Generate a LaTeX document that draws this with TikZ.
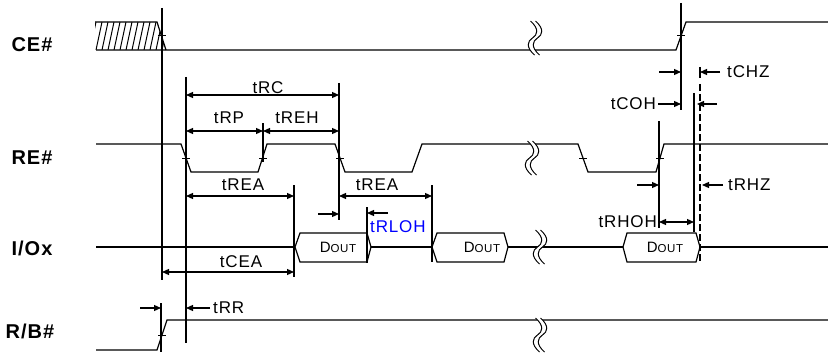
\documentclass[tikz,border=0pt]{standalone}
\usepackage{fontspec}
\setmainfont{Liberation Sans}
\newfontfamily\tfont[LetterSpace=5]{Liberation Sans}
\usetikzlibrary{arrows.meta}
\tikzset{
  sig/.style={line width=1.2pt},
  dim/.style={line width=1.2pt, -{Triangle[length=7pt,width=6pt]}},
  ddim/.style={line width=1.2pt, {Triangle[length=7pt,width=6pt]}-{Triangle[length=7pt,width=6pt]}},
  lbl/.style={inner sep=0pt, font=\tfont\fontsize{17}{19}\selectfont},
  signame/.style={inner sep=0pt, font=\tfont\bfseries\fontsize{20}{22}\selectfont},
  dout/.style={inner sep=0pt, font=\tfont\fontsize{15}{17}\selectfont},
  brk/.pic={
    \fill[white] (-4.5,-17) .. controls (4.5,-9) and (2.5,-3) .. (-2.5,0)
      .. controls (-7.5,3) and (-9.5,9) .. (-0.5,17) -- (4.5,17)
      .. controls (-4.5,9) and (-2.5,3) .. (2.5,0)
      .. controls (7.5,-3) and (9.5,-9) .. (0.5,-17) -- cycle;
    \foreach \d in {-2.5,2.5}
      \draw[line width=1pt, shift={(\d,0)}] (-2,-17) .. controls (7,-9) and (5,-3) .. (0,0)
        .. controls (-5,3) and (-7,9) .. (2,17);
  }
}
\newcommand{\Dout}{D{\fontsize{11.5}{13}\selectfont OUT}}
\begin{document}
\begin{tikzpicture}[x=1pt, y=-1pt]
  \useasboundingbox (0,0) rectangle (828,353);
  % timing marks
  \coordinate (ceF) at (162,0);
  \coordinate (reF) at (186,0);
  \coordinate (reR) at (263,0);
  \coordinate (reF2) at (339,0);
  \coordinate (doA) at (294,0);
  \coordinate (doB) at (367,0);
  \coordinate (doC) at (432,0);
  \coordinate (reR3) at (659,0);
  \coordinate (ceR) at (681,0);
  \coordinate (doD) at (694,0);
  \coordinate (hiZ) at (700,0);
  \coordinate (rbR) at (161,0);
  % signal names
  \node[signame] (nce) at (32,45) {CE\#};
  \node[signame] (nre) at (32,158) {RE\#};
  \node[signame] (nio) at (32,248) {I/Ox};
  \node[signame] (nrb) at (30,331) {R/B\#};
  % CE#
  \begin{scope}
    \clip (95,22) -- (157,22) -- (166,50) -- (95,50) -- cycle;
    \foreach \x in {90,96,...,168}
      \draw[line width=1pt] (\x,50) -- (\x+6,22);
  \end{scope}
  \draw[sig] (95,22) -- (157,22) -- (166,50);
  \draw[sig] (96,50) -- (676,50) -- (686,22) -- (828,22);
  % RE#
  \draw[sig] (96,144) -- (181,144) -- (191,172) -- (258,172) -- (267,144)
    -- (335,144) -- (345,172) -- (412,172) -- (422,144) -- (578,144)
    -- (588,172) -- (656,172) -- (664,144) -- (828,144);
  % I/Ox
  \draw[sig] (96,247) -- (295,247) (371,247) -- (432,247) (508,247) -- (623,247)
    (700,247) -- (828,247);
  \draw[sig] (295,247) -- (300,233) -- (367,233) -- (371,247) -- (367,262) -- (300,262) -- cycle;
  \draw[sig] (432,247) -- (437,233) -- (504,233) -- (508,247) -- (504,262) -- (437,262) -- cycle;
  \draw[sig] (623,247) -- (627,233) -- (696,233) -- (700,247) -- (696,262) -- (627,262) -- cycle;
  \node[dout] (d1) at (338,247) {\Dout};
  \node[dout] (d2) at (482,247) {\Dout};
  \node[dout] (d3) at (665,247) {\Dout};
  % R/B#
  \draw[sig] (96,350) -- (157,350) -- (167,320) -- (828,320);
  % breaks
  \pic at (535,38) {brk};
  \pic at (532,158) {brk};
  \pic at (540,247) {brk};
  \pic at (540,335) {brk};
  % crossing ticks
  \foreach \x/\y in {162/36, 681/36, 186/158, 263/158, 340/158, 583/158, 660/158, 162/335}
    \draw[line width=1pt] (\x-4,\y) -- (\x+4,\y);
  % reference lines
  \draw[sig] (ceF |- 0,8) -- (ceF |- 0,280);
  \draw[sig] (reF |- 0,77) -- (reF |- 0,343);
  \draw[sig] (reR |- 0,123) -- (reR |- 0,162);
  \draw[sig] (reF2 |- 0,83) -- (reF2 |- 0,220);
  \draw[sig] (doA |- 0,185) -- (doA |- 0,277);
  \draw[sig] (doB |- 0,207) -- (doB |- 0,263);
  \draw[sig] (doC |- 0,185) -- (doC |- 0,262);
  \draw[sig] (reR3 |- 0,121) -- (reR3 |- 0,228);
  \draw[sig] (ceR |- 0,3) -- (ceR |- 0,110);
  \draw[sig] (doD |- 0,93) -- (doD |- 0,232);
  \draw[sig] (rbR |- 0,303) -- (rbR |- 0,352);
  \draw[sig] (hiZ |- 0,67) -- (hiZ |- 0,78);
  \draw[sig, dash pattern=on 7pt off 3pt] (hiZ |- 0,84) -- (hiZ |- 0,264);
  % timings
  \draw[ddim] (reF |- 0,95) -- (reF2 |- 0,95);
  \node[lbl] (trc) at (268,88) {tRC};
  \draw[ddim] (reF |- 0,131) -- (reR |- 0,131);
  \node[lbl] (trp) at (229,118) {tRP};
  \draw[ddim] (reR |- 0,131) -- (reF2 |- 0,131);
  \node[lbl] (treh) at (297,118) {tREH};
  \draw[ddim] (reF |- 0,196) -- (doA |- 0,196);
  \node[lbl] (trea) at (243,185) {tREA};
  \draw[ddim] (reF2 |- 0,196) -- (doC |- 0,196);
  \node[lbl] (treb) at (377,185) {tREA};
  \draw[ddim] (ceF |- 0,272) -- (doA |- 0,272);
  \node[lbl] (tcea) at (241,262) {tCEA};
  \draw[dim] (318,214) -- (reF2 |- 0,214);
  \draw[dim] (388,213) -- (doB |- 0,213);
  \node[lbl, text=blue, anchor=west] (trloh) at (370,227) {tRLOH};
  \draw[dim] (659,72) -- (ceR |- 0,72);
  \draw[dim] (720,72) -- (hiZ |- 0,72);
  \node[lbl, anchor=west] (tchz) at (727,72) {tCHZ};
  \node[lbl, anchor=east] (tcoh) at (656,104) {tCOH};
  \draw[dim] (tcoh.east) ++(2,0) -- (ceR |- 0,104);
  \draw[dim] (717,104) -- (697,104);
  \draw[dim] (637,185) -- (reR3 |- 0,185);
  \draw[dim] (723,185) -- (702,185);
  \node[lbl, anchor=west] (trhz) at (728,185) {tRHZ};
  \draw[ddim] (reR3 |- 0,222) -- (doD |- 0,222);
  \node[lbl, anchor=east] (trhoh) at (657,222) {tRHOH};
  \draw[dim] (140,308) -- (rbR |- 0,308);
  \draw[dim] (210,308) -- (reF |- 0,308);
  \node[lbl, anchor=west] (trr) at (213,308) {tRR};
\end{tikzpicture}
\end{document}
